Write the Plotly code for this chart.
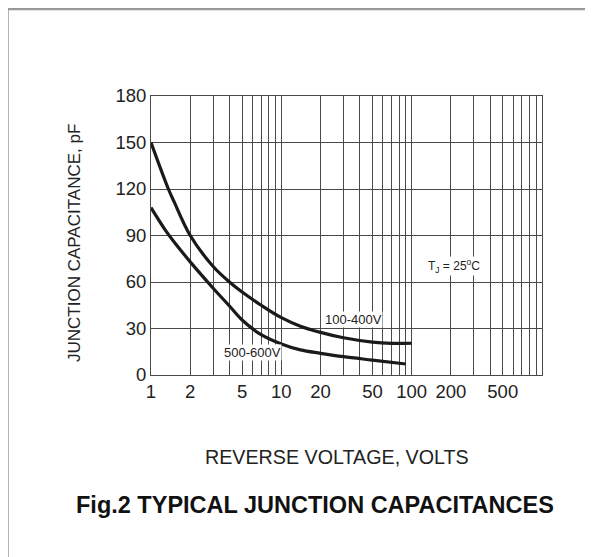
import math
import plotly.graph_objects as go

# ---- data ----
v_hi = [1, 1.36, 1.5, 2, 3, 4, 5, 7, 10, 14, 20, 30, 50, 70, 100]
c_hi = [150, 120, 112, 90, 70, 60, 53.5, 45, 37, 31.5, 27.5, 24, 21.2, 20.4, 20.5]
v_lo = [1, 1.3, 1.5, 2, 3, 4, 5, 7, 10, 14, 20, 30, 50, 90]
c_lo = [108, 93, 86, 73, 56, 44.5, 35.5, 26, 20, 16.2, 14, 11.8, 9.6, 7.1]

x_tick_vals = [1, 2, 5, 10, 20, 50, 100, 200, 500]
x_tick_text = ["1", "2", "5", "10", "20", "50", "100", "200", "500"]
x_minor_vals = [3, 4, 6, 7, 8, 9, 30, 40, 60, 70, 80, 90, 300, 400, 600, 700, 800, 900, 1000]
y_tick_vals = [0, 30, 60, 90, 120, 150, 180]

labels = ["100-400V", "500-600V", "T<sub>J</sub> = 25<sup>o</sup>C"]
label_v = [35.9, 6.04, 211]
label_c = [36.1, 14.2, 70.3]
label_size = [13, 13, 12]

FONT = "Liberation Sans, Arial, sans-serif"
TXT = "#222222"
GRID = "#4a4a4a"

fig = go.Figure()
for xs, ys in ((v_hi, c_hi), (v_lo, c_lo)):
    fig.add_trace(go.Scatter(x=xs, y=ys, mode="lines",
                             line=dict(color="#1a1a1a", width=3.2, shape="spline", smoothing=1.0),
                             showlegend=False, hoverinfo="skip"))

# page body has an 8px margin: shift plot area so it lands at x 151..542, y 96..375
fig.update_layout(
    width=593, height=557,
    margin=dict(l=143, r=59, t=88, b=190),
    paper_bgcolor="white", plot_bgcolor="white",
    font=dict(family=FONT, color=TXT),
    xaxis=dict(type="log", range=[0, 3], tickvals=x_tick_vals, ticktext=x_tick_text,
               showgrid=True, gridcolor=GRID, gridwidth=1, ticks="", zeroline=False,
               showline=True, linecolor=GRID, linewidth=1, mirror=True,
               tickfont=dict(size=18.5, color=TXT),
               minor=dict(tickvals=x_minor_vals, showgrid=True, gridcolor=GRID, gridwidth=1, ticks="")),
    yaxis=dict(range=[0, 180], tickvals=y_tick_vals, showgrid=True, gridcolor=GRID, gridwidth=1,
               ticks="", zeroline=False, showline=True, linecolor=GRID, linewidth=1, mirror=True,
               tickfont=dict(size=18.5, color=TXT)),
)

for t, v, c, s in zip(labels, label_v, label_c, label_size):
    fig.add_annotation(x=math.log10(v), y=c, xref="x", yref="y", text=t, showarrow=False,
                       font=dict(size=s, color=TXT), bgcolor="white", borderpad=0)

fig.add_annotation(x=0.476, y=-0.294, xref="paper", yref="paper", text="REVERSE VOLTAGE, VOLTS",
                   showarrow=False, font=dict(size=19.7, color=TXT), xanchor="center", yanchor="middle")
fig.add_annotation(x=-0.197, y=0.473, xref="paper", yref="paper", text="JUNCTION CAPACITANCE, pF",
                   showarrow=False, textangle=-90, font=dict(size=17, color=TXT), xanchor="center", yanchor="middle")
fig.add_annotation(x=0.419, y=-0.466, xref="paper", yref="paper", text="<b>Fig.2 TYPICAL JUNCTION CAPACITANCES</b>",
                   showarrow=False, font=dict(size=23.5, color="#111111"), xanchor="center", yanchor="middle")

# frame (left and top border)
fig.add_shape(type="line", xref="paper", yref="paper", x0=-0.367, x1=-0.367, y0=-0.7, y1=1.314,
              line=dict(color="#999999", width=2.5))
fig.add_shape(type="line", xref="paper", yref="paper", x0=-0.37, x1=1.2, y0=1.312, y1=1.312,
              line=dict(color="#999999", width=2.5))

fig.write_html("out.html")
